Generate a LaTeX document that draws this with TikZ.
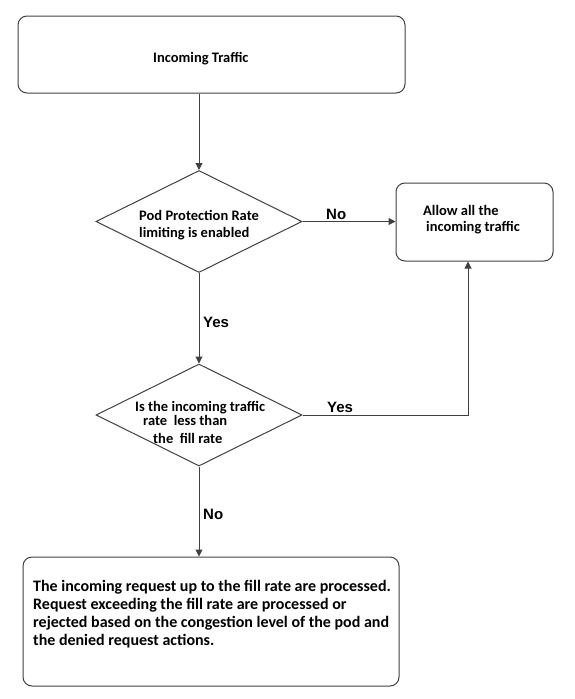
\documentclass[tikz,border=0pt]{standalone}
\usepackage{fontspec}
\setmainfont{Carlito}
\newfontfamily\lblfont{Liberation Sans}
\usetikzlibrary{arrows.meta,shapes.geometric}
\definecolor{linec}{HTML}{404040}
\tikzset{
  box/.style={draw=linec, line width=1pt, rounded corners=9pt, inner sep=0pt},
  dec/.style={draw=linec, line width=1pt, diamond, aspect=2.02, inner sep=0pt, minimum width=206pt, minimum height=102pt},
  txt/.style={font=\fontsize{14.5}{17}\selectfont\bfseries, anchor=base west, inner sep=0pt},
  btxt/.style={font=\fontsize{16}{18}\selectfont\bfseries, anchor=base west, inner sep=0pt},
  lbl/.style={font=\lblfont\fontsize{15}{17}\selectfont\bfseries, anchor=base west, inner sep=0pt},
  conn/.style={draw=linec, line width=1pt, -{Triangle[length=7pt,width=7pt]}},
}
\begin{document}
\begin{tikzpicture}[x=1pt,y=-1pt]
\useasboundingbox (0,0) rectangle (574,699);
% boxes
\node[box, minimum width=387pt, minimum height=77pt] (top) at (211.5,54.5) {};
\node[txt] (toptxt) at (153,62) {Incoming Traffic};
\node[dec] (d1) at (199,221.5) {};
\node[txt] (d1a) at (139,220) {Pod Protection Rate};
\node[txt] (d1b) at (139,237) {limiting is enabled};
\node[box, minimum width=157pt, minimum height=78pt] (allow) at (474.5,222) {};
\node[txt] (al1) at (423,215) {Allow all the};
\node[txt] (al2) at (426,231) {incoming traffic};
\node[dec] (d2) at (199,415) {};
\node[txt] (d2a) at (135,411) {Is the incoming traffic};
\node[txt] (d2b) at (143,425) {rate\ \ less than};
\node[txt] (d2c) at (153,443) {the\ \ fill rate};
\node[box, minimum width=376pt, minimum height=129pt] (bot) at (211,621.5) {};
\node[btxt] (b1) at (33,591) {The incoming request up to the fill rate are processed.};
\node[btxt] (b2) at (33,609) {Request exceeding the fill rate are processed or};
\node[btxt] (b3) at (33,627) {rejected based on the congestion level of the pod and};
\node[btxt] (b4) at (33,645) {the denied request actions.};
% connectors
\draw[conn] (top.south -| d1.north) -- (d1.north);
\draw[conn] (d1.east) -- (allow.west |- d1.east);
\draw[conn] (d1.south) -- (d2.north);
\coordinate (bend) at (468,415);
\draw[conn] (d2.east) -- (bend) -- (bend |- allow.south);
\draw[conn] (d2.south) -- (bot.north -| d2.south);
% labels
\node[lbl] (no1) at (326,219) {No};
\node[lbl] (yes1) at (203,327) {Yes};
\node[lbl] (yes2) at (327,412) {Yes};
\node[lbl] (no2) at (203,519) {No};
\end{tikzpicture}
\end{document}
